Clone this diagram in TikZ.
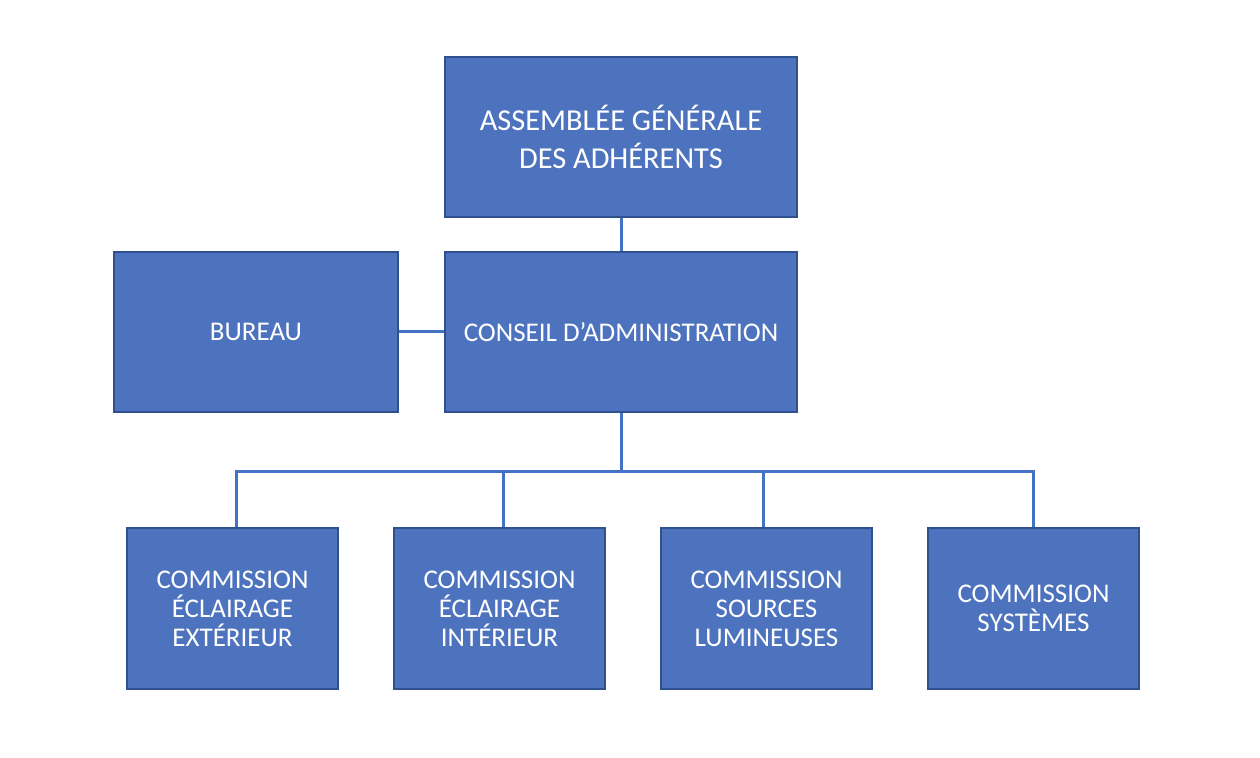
\documentclass[tikz,border=0pt]{standalone}
\usepackage{fontspec}
\setmainfont{Carlito}

\definecolor{boxblue}{HTML}{4E73BE}
\definecolor{boxedge}{HTML}{2F528F}
\definecolor{linkblue}{HTML}{4472C4}

\tikzset{
    orgbox/.style={draw=boxedge, line width=1pt, fill=boxblue, text=white, align=center, inner sep=0pt,
        font=\fontsize{13.5}{14.5}\selectfont},
    bigbox/.style={orgbox, minimum width=176pt, minimum height=80pt},
    smallbox/.style={orgbox, minimum width=105.5pt, minimum height=80.5pt},
    link/.style={draw=linkblue, line width=1.5pt}
}

\begin{document}
\begin{tikzpicture}[x=0.5pt, y=-0.5pt]
            \useasboundingbox (0,0) rectangle (1260,758);

            % Top levels
            \node[bigbox, font=\fontsize{15.2}{19}\selectfont] (ag) at (621,137) {ASSEMBLÉE GÉNÉRALE\\DES ADHÉRENTS};
            \node[bigbox] (ca) at (621,332) {CONSEIL D’ADMINISTRATION};
            \node[orgbox, minimum width=142pt, minimum height=80pt] (bureau) at (256,332) {BUREAU};

            % Commissions
            \node[smallbox] (ext) at (232.5,608.5) {COMMISSION\\ÉCLAIRAGE\\EXTÉRIEUR};
            \node[smallbox] (int) at (499.5,608.5) {COMMISSION\\ÉCLAIRAGE\\INTÉRIEUR};
            \node[smallbox] (src) at (766.5,608.5) {COMMISSION\\SOURCES\\LUMINEUSES};
            \node[smallbox] (sys) at (1033.5,608.5) {COMMISSION\\SYSTÈMES};

            % Links
            \coordinate (bus) at (621,472);
            \draw[link] (ag.south) -- (ca.north);
            \draw[link] (bureau.east) -- (ca.west);
            \draw[link] (ca.south) -- (bus);
            \draw[link] ([xshift=1.75pt]ext.north) |- (bus);
            \draw[link] ([xshift=1.75pt]int.north) |- (bus);
            \draw[link] ([xshift=-1.75pt]src.north) |- (bus);
            \draw[link] (sys.north) |- (bus);
\end{tikzpicture}
\end{document}
